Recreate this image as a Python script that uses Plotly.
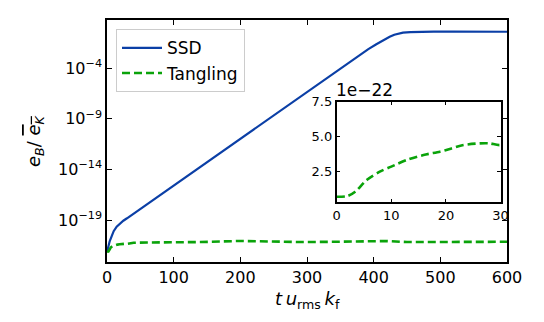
import plotly.graph_objects as go

# ---- data ----
t_ssd = [0, 1, 2, 4, 7, 10, 14.5, 19, 24.5, 30, 60, 100, 150, 200, 250, 300, 350, 379,
         392, 404, 416, 424, 431, 437, 444, 455, 470, 490, 520, 560, 600]
e_ssd = [7.1e-23, 1.12e-22, 2.3e-22, 7.9e-22, 3.3e-21, 7.9e-21, 2.2e-20, 4.5e-20,
         8.5e-20, 1.48e-19, 3.6e-18, 2.6e-16, 5.4e-14, 1.1e-11, 2.3e-9, 4.7e-7, 9.5e-5,
         2.1e-3, 7.9e-3, 2.4e-2, 7.1e-2, 0.132, 0.209, 0.275, 0.331, 0.38, 0.407, 0.417,
         0.417, 0.417, 0.41]

t_tang = [0, 2, 3.4, 5.5, 7.9, 10, 12.8, 15.9, 18.9, 20.7, 23.2, 26.2, 28, 30,
          40, 60, 90, 140, 200, 240, 290, 340, 400, 420, 450, 500, 550, 600]
e_tang = [0.71e-22, 0.76e-22, 1.07e-22, 1.9e-22, 2.5e-22, 2.86e-22, 3.33e-22,
          3.69e-22, 3.93e-22, 4.12e-22, 4.4e-22, 4.52e-22, 4.52e-22, 4.4e-22,
          5.6e-22, 6.0e-22, 6.2e-22, 6.6e-22, 8.5e-22, 7.2e-22, 6.6e-22, 7.0e-22,
          9.0e-22, 8.3e-22, 6.6e-22, 6.6e-22, 6.6e-22, 7.0e-22]

x_ticks = [0, 100, 200, 300, 400, 500, 600]
y_ticks = [1e-4, 1e-9, 1e-14, 1e-19]
y_ticktext = ["10<sup>\u22124</sup>", "10<sup>\u22129</sup>", "10<sup>\u221214</sup>",
              "10<sup>\u221219</sup>"]
inset_x_ticks = [0, 10, 20, 30]
inset_y_ticks = [2.5, 5.0, 7.5]
inset_scale = 1e-22

BLUE = "#0b3fa6"
GREEN = "#0aa30a"
FONT = "DejaVu Sans"

fig = go.Figure()
fig.add_trace(go.Scatter(x=t_ssd, y=e_ssd, mode="lines", name="SSD",
                         line=dict(color=BLUE, width=2.2),
                         xaxis="x", yaxis="y"))
fig.add_trace(go.Scatter(x=t_tang, y=e_tang, mode="lines", name="Tangling",
                         line=dict(color=GREEN, width=2.6, dash="8px,4px"),
                         xaxis="x", yaxis="y"))
fig.add_trace(go.Scatter(x=t_tang, y=[v / inset_scale for v in e_tang], mode="lines",
                         showlegend=False,
                         line=dict(color=GREEN, width=2.6, dash="8px,4px",
                                   shape="spline", smoothing=0.8),
                         xaxis="x2", yaxis="y2"))

axis_common = dict(showgrid=False, zeroline=False, showline=True, linecolor="black",
                   linewidth=1.5, mirror="ticks", ticks="inside", tickcolor="black",
                   tickwidth=1.2, automargin=False)

# page body has an 8px margin, so the figure is 8px smaller and margins shifted
fig.update_layout(
    width=536, height=314,
    margin=dict(l=99, r=37, t=12, b=60, autoexpand=False),
    paper_bgcolor="white", plot_bgcolor="white",
    font=dict(family=FONT, size=16, color="black"),
    xaxis=dict(domain=[0, 1], range=[0, 600], tickvals=x_ticks, ticklen=5,
               tickfont=dict(size=16), **axis_common),
    yaxis=dict(domain=[0, 1], type="log", range=[-23.153, 0.776], tickvals=y_ticks,
               ticktext=y_ticktext, ticklen=5, tickfont=dict(size=16), **axis_common),
    xaxis2=dict(domain=[0.574, 0.984], anchor="y2", range=[0, 30],
                tickvals=inset_x_ticks, ticklen=4, tickfont=dict(size=13), **axis_common),
    yaxis2=dict(domain=[0.2467, 0.6624], anchor="x2", range=[0.31, 7.5],
                tickvals=inset_y_ticks, ticktext=["2.5", "5.0", "7.5"], ticklen=4,
                tickfont=dict(size=13), **axis_common),
    legend=dict(x=0.0225, y=0.9616, xanchor="left", yanchor="top",
                bgcolor="rgba(255,255,255,0.8)", bordercolor="#cccccc", borderwidth=1,
                font=dict(size=17), itemwidth=40, tracegroupgap=0),
    showlegend=True,
)

fig.add_annotation(text="1e\u221222", xref="paper", yref="paper", x=0.574, y=0.6624,
                   xanchor="left", yanchor="bottom", showarrow=False,
                   font=dict(size=17), yshift=0, xshift=-3)
fig.add_annotation(text="<i>t</i>\u2009<i>u</i><sub>rms</sub>\u2009<i>k</i><sub>f</sub>",
                   xref="paper", yref="paper", x=0.5, y=-0.157, xanchor="center",
                   yanchor="middle", showarrow=False, font=dict(size=18))
fig.add_annotation(text="<i>e<sub>B</sub></i>/ <span style=\"text-decoration:overline\"><i>e<sub>K</sub></i></span>",
                   xref="paper", yref="paper", x=-0.18, y=0.5, xanchor="center",
                   yanchor="middle", showarrow=False, textangle=-90, font=dict(size=18))

fig.write_html("out.html")
